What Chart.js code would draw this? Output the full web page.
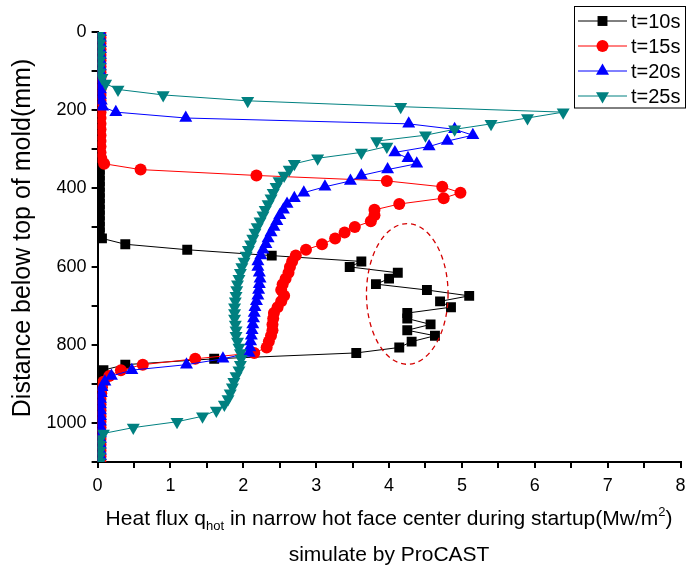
<!DOCTYPE html>
<html>
<head>
<meta charset="utf-8">
<script src="https://cdn.jsdelivr.net/npm/chart.js@4.4.1/dist/chart.umd.min.js"></script>
<style>
    html, body { margin: 0; padding: 0; background: #fff; }
    #wrap { width: 688px; height: 568px; }
</style>
</head>
<body>
<div id="wrap"><canvas id="fluxChart" width="688" height="568"></canvas></div>
<script>
// Node depths below top of mould (mm)
const depthMm = [
    0, 15, 29, 44, 59, 73, 88, 103, 117, 132,
    147, 161, 176, 191, 205, 220, 235, 249, 264, 279,
    293, 308, 323, 337, 352, 367, 381, 396, 411, 425,
    440, 455, 469, 484, 499, 513, 528, 543, 557, 572,
    587, 601, 616, 631, 645, 660, 675, 689, 704, 719,
    733, 748, 763, 777, 792, 807, 821, 836, 851, 865,
    880, 895, 909, 924, 939, 953, 968, 983, 997, 1012,
    1027, 1041, 1056, 1071, 1085, 1100
];

// Heat flux at each node (MW/m2)
const flux10s = [
    0.03, 0.03, 0.03, 0.03, 0.03, 0.03, 0.03, 0.03, 0.03, 0.03,
    0.03, 0.03, 0.03, 0.03, 0.03, 0.03, 0.03, 0.03, 0.03, 0.03,
    0.03, 0.03, 0.03, 0.03, 0.03, 0.03, 0.03, 0.03, 0.03, 0.03,
    0.03, 0.03, 0.03, 0.03, 0.03, 0.03, 0.06, 0.38, 1.23, 2.39,
    3.62, 3.46, 4.12, 4.00, 3.82, 4.52, 5.10, 4.70, 4.85, 4.25,
    4.25, 4.57, 4.25, 4.63, 4.31, 4.14, 3.55, 1.60, 0.38, 0.08,
    0.03, 0.03, 0.03, 0.03, 0.03, 0.03, 0.03, 0.03, 0.03, 0.03,
    0.03, 0.03, 0.03, 0.03, 0.03, 0.03
];
const flux15s = [
    0.04, 0.04, 0.04, 0.04, 0.04, 0.04, 0.04, 0.04, 0.04, 0.04,
    0.04, 0.04, 0.04, 0.04, 0.04, 0.04, 0.04, 0.04, 0.04, 0.04,
    0.04, 0.04, 0.05, 0.09, 0.59, 2.18, 3.97, 4.73, 4.98, 4.75,
    4.14, 3.80, 3.80, 3.75, 3.53, 3.39, 3.26, 3.08, 2.86, 2.72,
    2.67, 2.64, 2.62, 2.58, 2.54, 2.52, 2.56, 2.52, 2.47, 2.42,
    2.41, 2.40, 2.40, 2.38, 2.35, 2.32, 2.15, 1.34, 0.62, 0.32,
    0.16, 0.08, 0.06, 0.05, 0.04, 0.04, 0.04, 0.04, 0.04, 0.04,
    0.04, 0.04, 0.04, 0.04, 0.04, 0.04
];
const flux20s = [
    0.04, 0.04, 0.04, 0.04, 0.04, 0.04, 0.04, 0.04, 0.04, 0.04,
    0.04, 0.04, 0.05, 0.07, 0.25, 1.21, 4.27, 4.90, 5.15, 4.80,
    4.55, 4.08, 4.26, 4.38, 3.98, 3.62, 3.47, 3.12, 2.83, 2.70,
    2.60, 2.55, 2.50, 2.46, 2.42, 2.38, 2.34, 2.31, 2.27, 2.24,
    2.20, 2.20, 2.22, 2.23, 2.22, 2.21, 2.20, 2.18, 2.16, 2.15,
    2.14, 2.13, 2.12, 2.11, 2.10, 2.09, 2.08, 1.72, 1.22, 0.47,
    0.19, 0.10, 0.06, 0.05, 0.04, 0.04, 0.04, 0.04, 0.04, 0.04,
    0.04, 0.04, 0.04, 0.04, 0.04, 0.04
];
const flux25s = [
    0.03, 0.03, 0.03, 0.03, 0.03, 0.03, 0.03, 0.03, 0.06, 0.11,
    0.28, 0.90, 2.06, 4.16, 6.39, 5.90, 5.40, 4.90, 4.50, 3.83,
    3.97, 3.62, 3.02, 2.70, 2.63, 2.56, 2.49, 2.45, 2.41, 2.38,
    2.34, 2.30, 2.27, 2.23, 2.19, 2.16, 2.13, 2.10, 2.07, 2.04,
    2.01, 1.98, 1.96, 1.94, 1.92, 1.91, 1.90, 1.89, 1.88, 1.88,
    1.88, 1.89, 1.90, 1.90, 1.92, 1.94, 1.96, 1.97, 1.96, 1.94,
    1.90, 1.87, 1.85, 1.82, 1.79, 1.74, 1.63, 1.44, 1.09, 0.49,
    0.08, 0.03, 0.03, 0.03, 0.03, 0.03
];

const seriesLabels = ['t=10s', 't=15s', 't=20s', 't=25s'];
const xTickLabels = ['0', '1', '2', '3', '4', '5', '6', '7', '8'];
const yTickLabels = ['0', '200', '400', '600', '800', '1000'];

// dashed ring drawn round the scattered 10 s points (flux, mm)
const ringCenter = [4.25, 670];
const ringRadius = [0.56, 180];

const FONT = 'Arial, "Liberation Sans", sans-serif';

const seriesStyle = [
    { color: '#000000', pointStyle: 'rect', radius: 7, rotation: 0 },
    { color: '#ff0000', pointStyle: 'circle', radius: 6, rotation: 0 },
    { color: '#0000ff', pointStyle: 'triangle', radius: 7.5, rotation: 0 },
    { color: '#008080', pointStyle: 'triangle', radius: 7.5, rotation: 180 }
];

function toPoints(flux) {
    return flux.map((q, i) => ({ x: q, y: depthMm[i] }));
}

const allFlux = [flux10s, flux15s, flux20s, flux25s];

const datasets = allFlux.map((flux, i) => ({
    label: seriesLabels[i],
    data: toPoints(flux),
    showLine: true,
    borderColor: seriesStyle[i].color,
    backgroundColor: seriesStyle[i].color,
    borderWidth: 1,
    pointStyle: seriesStyle[i].pointStyle,
    pointRadius: seriesStyle[i].radius,
    pointRotation: seriesStyle[i].rotation,
    pointBorderWidth: 0,
    pointBackgroundColor: seriesStyle[i].color,
    clip: 0,
    order: 4 - i   // later runs sit on top
}));

// draw text with a subscript / superscript piece
function drawRichLine(ctx, parts, cx, cy, size) {
    let total = 0;
    parts.forEach(p => {
        ctx.font = (p.small ? Math.round(size * 0.62) : size) + 'px ' + FONT;
        p.w = ctx.measureText(p.t).width;
        total += p.w;
    });
    let x = cx - total / 2;
    ctx.textAlign = 'left';
    ctx.textBaseline = 'alphabetic';
    parts.forEach(p => {
        ctx.font = (p.small ? Math.round(size * 0.62) : size) + 'px ' + FONT;
        ctx.fillText(p.t, x, cy + (p.shift || 0));
        x += p.w;
    });
}

const extrasPlugin = {
    id: 'extras',
    afterDatasetsDraw(chart) {
        const { ctx, scales: { x, y } } = chart;
        const cx = x.getPixelForValue(ringCenter[0]);
        const cy = y.getPixelForValue(ringCenter[1]);
        const rx = x.getPixelForValue(ringCenter[0] + ringRadius[0]) - cx;
        const ry = y.getPixelForValue(ringCenter[1] + ringRadius[1]) - cy;
        ctx.save();
        ctx.strokeStyle = '#d40000';
        ctx.lineWidth = 1.3;
        ctx.setLineDash([5, 4]);
        ctx.beginPath();
        ctx.ellipse(cx, cy, rx, ry, 0, 0, Math.PI * 2);
        ctx.stroke();
        ctx.restore();
    },
    afterDraw(chart) {
        const { ctx, chartArea } = chart;
        ctx.save();

        // legend box
        ctx.strokeStyle = '#000';
        ctx.lineWidth = 1;
        ctx.strokeRect(574.5, 6.5, 111, 101.5);
        seriesLabels.forEach((lab, i) => {
            const st = seriesStyle[i];
            const ly = 21 + i * 25;
            ctx.strokeStyle = st.color;
            ctx.lineWidth = 1;
            ctx.beginPath();
            ctx.moveTo(578, ly);
            ctx.lineTo(627, ly);
            ctx.stroke();
            ctx.fillStyle = st.color;
            Chart.helpers.drawPoint(ctx, {
                pointStyle: st.pointStyle,
                radius: st.radius,
                rotation: st.rotation,
                borderWidth: 0
            }, 602.5, ly);
            ctx.fillStyle = '#000';
            ctx.font = '20px ' + FONT;
            ctx.textAlign = 'left';
            ctx.textBaseline = 'middle';
            ctx.fillText(lab, 631, ly + 1);
        });

        // axis titles
        ctx.fillStyle = '#000';
        const midX = (chartArea.left + chartArea.right) / 2;
        drawRichLine(ctx, [
            { t: 'Heat flux q' },
            { t: 'hot', small: true, shift: 5 },
            { t: ' in narrow hot face center during startup(Mw/m' },
            { t: '2', small: true, shift: -9 },
            { t: ')' }
        ], midX, 525, 21);
        drawRichLine(ctx, [{ t: 'simulate by ProCAST' }], midX, 561, 21);

        ctx.save();
        ctx.translate(23, 238);
        ctx.rotate(-Math.PI / 2);
        ctx.font = '25px ' + FONT;
        ctx.textAlign = 'center';
        ctx.textBaseline = 'middle';
        ctx.fillText('Distance below top of mold(mm)', 0, 0);
        ctx.restore();

        ctx.restore();
    }
};

new Chart(document.getElementById('fluxChart').getContext('2d'), {
    type: 'scatter',
    data: { datasets },
    options: {
        responsive: false,
        animation: false,
        layout: { padding: { left: 0, right: 5, top: 32, bottom: 0 } },
        plugins: {
            legend: { display: false },
            tooltip: { enabled: false }
        },
        scales: {
            x: {
                type: 'linear',
                position: 'bottom',
                min: 0,
                max: 8,
                afterFit: s => {
                    s.height = 106;
                    s.paddingLeft = 0;
                    s.paddingRight = 0;
                },
                ticks: {
                    stepSize: 0.5,
                    autoSkip: false,
                    maxRotation: 0,
                    padding: 7,
                    color: '#000',
                    font: { family: FONT, size: 18 },
                    callback: v => Number.isInteger(v) ? xTickLabels[v] : ''
                },
                grid: { drawOnChartArea: false, tickLength: 6, color: '#000', lineWidth: 2 },
                border: { color: '#000', width: 2 }
            },
            y: {
                type: 'linear',
                reverse: true,
                min: 0,
                max: 1100,
                afterFit: s => {
                    s.width = 97.6;
                    s.paddingTop = 0;
                    s.paddingBottom = 0;
                },
                ticks: {
                    stepSize: 100,
                    autoSkip: false,
                    padding: 5,
                    color: '#000',
                    font: { family: FONT, size: 18 },
                    callback: v => v % 200 === 0 ? yTickLabels[v / 200] : ''
                },
                grid: { drawOnChartArea: false, tickLength: 6, color: '#000', lineWidth: 2 },
                border: { color: '#000', width: 2 }
            }
        }
    },
    plugins: [extrasPlugin]
});
</script>
</body>
</html>
